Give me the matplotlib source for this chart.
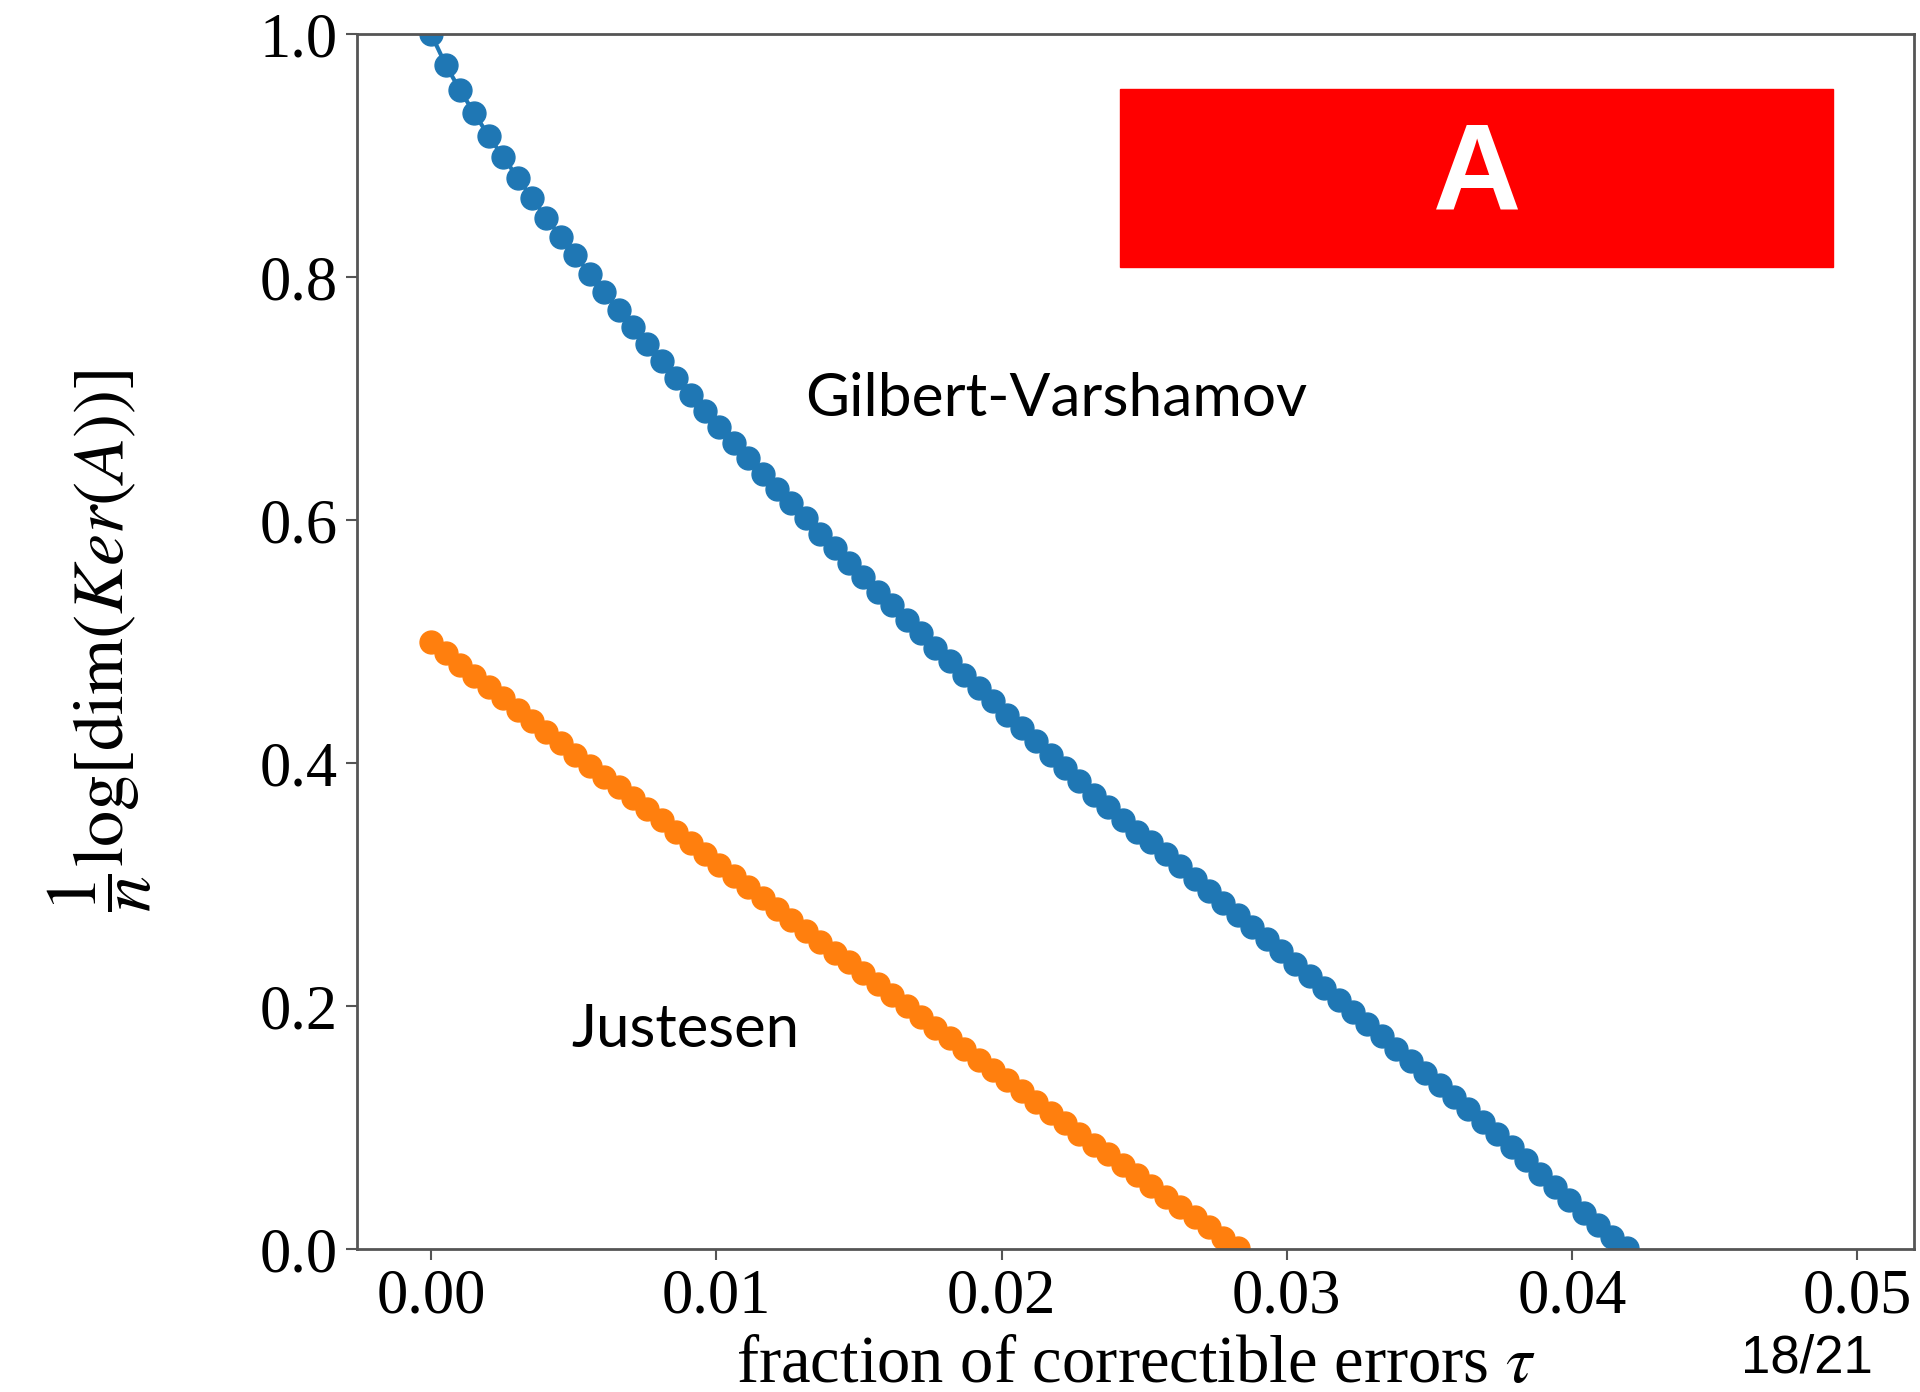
import numpy as np
import matplotlib
matplotlib.use("Agg")
import matplotlib.pyplot as plt
from matplotlib.patches import Rectangle

plt.rcParams["mathtext.fontset"] = "stix"

# sampling grid of the fraction of correctible errors
tau = np.linspace(0, 0.05, 100)

# Gilbert-Varshamov values
gv = [1.000, 0.975, 0.954, 0.935, 0.916, 0.899, 0.882, 0.865, 0.849, 0.833,
      0.818, 0.803, 0.788, 0.773, 0.759, 0.745, 0.731, 0.717, 0.703, 0.690,
      0.677, 0.664, 0.651, 0.638, 0.626, 0.614, 0.602, 0.589, 0.577, 0.565,
      0.553, 0.541, 0.530, 0.518, 0.507, 0.495, 0.484, 0.473, 0.462, 0.451,
      0.440, 0.429, 0.418, 0.407, 0.396, 0.385, 0.374, 0.364, 0.353, 0.343,
      0.335, 0.325, 0.315, 0.305, 0.295, 0.285, 0.275, 0.265, 0.255, 0.245,
      0.235, 0.225, 0.215, 0.205, 0.195, 0.185, 0.175, 0.165, 0.155, 0.145,
      0.135, 0.125, 0.115, 0.105, 0.095, 0.084, 0.073, 0.062, 0.051, 0.040,
      0.030, 0.020, 0.010, 0.001]

# Justesen values
jus = [0.500, 0.491, 0.481, 0.472, 0.463, 0.454, 0.444, 0.435, 0.426, 0.417,
       0.407, 0.398, 0.389, 0.380, 0.371, 0.362, 0.353, 0.343, 0.334, 0.325,
       0.316, 0.307, 0.298, 0.289, 0.280, 0.271, 0.262, 0.253, 0.244, 0.236,
       0.227, 0.218, 0.209, 0.200, 0.191, 0.182, 0.174, 0.165, 0.156, 0.147,
       0.139, 0.130, 0.121, 0.112, 0.104, 0.095, 0.086, 0.078, 0.069, 0.061,
       0.052, 0.043, 0.035, 0.026, 0.018, 0.009, 0.001]

xticks = [0.00, 0.01, 0.02, 0.03, 0.04, 0.05]
yticks = [0.0, 0.2, 0.4, 0.6, 0.8, 1.0]

fig = plt.figure(figsize=(19.2, 13.92), dpi=100)
ax = fig.add_axes([0.186, 0.1027, 0.811, 0.8726])

ax.plot(tau[:len(gv)], gv, "o-", color="#1f77b4", ms=16.5, lw=3)
ax.plot(tau[:len(jus)], jus, "o-", color="#ff7f0e", ms=16.5, lw=3)

ax.set_xlim(-0.0026, 0.0520)
ax.set_ylim(0, 1)
ax.set_xticks(xticks)
ax.set_yticks(yticks)
ax.set_xticklabels([f"{v:.2f}" for v in xticks])
ax.set_yticklabels([f"{v:.1f}" for v in yticks])

for lab in ax.get_xticklabels() + ax.get_yticklabels():
    lab.set_fontfamily("Liberation Serif")
    lab.set_fontsize(45)
ax.tick_params(length=8, width=1.5, color="#555555", pad=6)
for sp in ax.spines.values():
    sp.set_color("#555555")
    sp.set_linewidth(2)

ax.set_xlabel(r"fraction of correctible errors $\tau$", family="Liberation Serif",
              fontsize=48, labelpad=6)
fig.text(0.052, 0.54, r"$\dfrac{1}{n}\log[\dim(Ker(A))]$", rotation=90,
         fontsize=52, ha="center", va="center")

# annotations
ax.text(0.0131, 0.700, "Gilbert-Varshamov", family="Lato", fontsize=43.5,
        ha="left", va="center")
ax.text(0.0049, 0.180, "Justesen", family="Lato", fontsize=43,
        ha="left", va="center")

# red box with A
ax.add_patch(Rectangle((0.49, 0.8084), 0.458, 0.147, transform=ax.transAxes,
                       color="#ff0000", zorder=5))
ax.text(0.49 + 0.458 / 2, 0.8084 + 0.0735, "A", transform=ax.transAxes,
        family=["Liberation Sans Narrow", "Liberation Sans"], weight="bold",
        fontsize=88, color="white", ha="center", va="center", zorder=6)

fig.text(0.941, 0.024, "18/21", family=["Liberation Sans Narrow", "Liberation Sans"],
         fontsize=38, ha="center", va="center")

fig.savefig("out.png", dpi=100)
